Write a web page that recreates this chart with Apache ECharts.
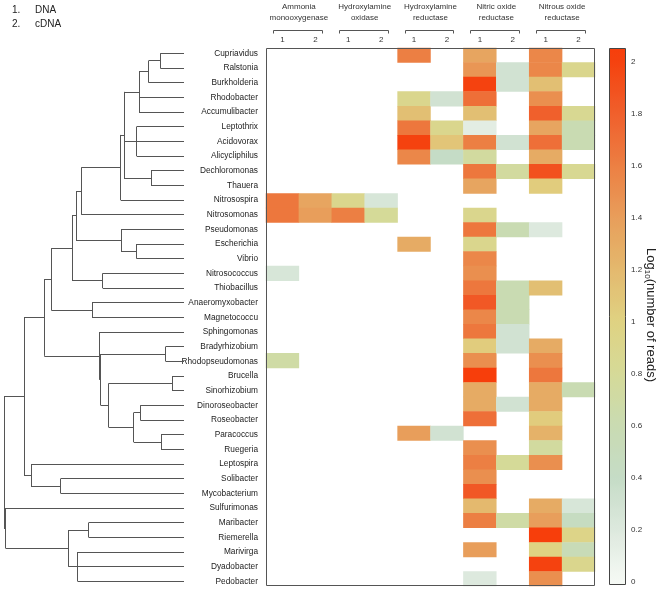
<!DOCTYPE html>
<html><head><meta charset="utf-8">
<script src="https://cdn.jsdelivr.net/npm/echarts@6/dist/echarts.min.js"></script>
<style>html,body{margin:0;padding:0;background:#fff}#c{width:660px;height:590px}</style>
</head><body><div id="c"></div><script>
// ---------- DATA ----------
const leafNames = ['Cupriavidus','Ralstonia','Burkholderia','Rhodobacter','Accumulibacter','Leptothrix','Acidovorax','Alicycliphilus','Dechloromonas','Thauera','Nitrosospira','Nitrosomonas','Pseudomonas','Escherichia','Vibrio','Nitrosococcus','Thiobacillus','Anaeromyxobacter','Magnetococcu','Sphingomonas','Bradyrhizobium','Rhodopseudomonas','Brucella','Sinorhizobium','Dinoroseobacter','Roseobacter','Paracoccus','Ruegeria','Leptospira','Solibacter','Mycobacterium','Sulfurimonas','Maribacter','Riemerella','Marivirga','Dyadobacter','Pedobacter'];
const groupLabels = ['Ammonia\nmonooxygenase','Hydroxylamine\noxidase','Hydroxylamine\nreductase','Nitric oxide\nreductase','Nitrous oxide\nreductase'];
const colKeys = ['amoDNA','amoCDNA','haoDNA','haoCDNA','hcpDNA','hcpCDNA','norDNA','norCDNA','nosDNA','nosCDNA'];
const colLabels = ['1','2','1','2','1','2','1','2','1','2'];
const colorbarTicks = [0,0.2,0.4,0.6,0.8,1,1.2,1.4,1.6,1.8,2];
const legendLines = [['1.','DNA'],['2.','cDNA']];

// log10(number of reads), one value per row (leafNames order)
const amoDNA  = [0,0,0,0,0,0,0,0,0,0, 1.65,1.65,0,0,0,0.25,0,0,0,0, 0,0.7,0,0,0,0,0,0,0,0, 0,0,0,0,0,0,0];
const amoCDNA = [0,0,0,0,0,0,0,0,0,0, 1.35,1.4,0,0,0,0,0,0,0,0, 0,0,0,0,0,0,0,0,0,0, 0,0,0,0,0,0,0];
const haoDNA  = [0,0,0,0,0,0,0,0,0,0, 0.9,1.6,0,0,0,0,0,0,0,0, 0,0,0,0,0,0,0,0,0,0, 0,0,0,0,0,0,0];
const haoCDNA = [0,0,0,0,0,0,0,0,0,0, 0.25,0.8,0,0,0,0,0,0,0,0, 0,0,0,0,0,0,0,0,0,0, 0,0,0,0,0,0,0];
const hcpDNA  = [1.6,0,0,0.9,1.15,1.65,2.0,1.55,0,0, 0,0,0,1.3,0,0,0,0,0,0, 0,0,0,0,0,0,1.4,0,0,0, 0,0,0,0,0,0,0];
const hcpCDNA = [0,0,0,0.3,0,0.9,1.1,0.4,0,0, 0,0,0,0,0,0,0,0,0,0, 0,0,0,0,0,0,0.3,0,0,0, 0,0,0,0,0,0,0];
const norDNA  = [1.35,1.45,2.0,1.7,1.15,0.15,1.6,0.75,1.65,1.35, 0,0.9,1.65,0.9,1.55,1.5,1.65,1.85,1.55,1.65, 1.05,1.5,2.05,1.3,1.3,1.7,0,1.5,1.6,1.5, 1.85,1.2,1.6,0,1.4,0,0.2];
const norCDNA = [0,0.3,0.3,0,0,0,0.3,0,0.75,0, 0,0,0.6,0,0,0,0.6,0.6,0.6,0.3, 0.3,0,0,0,0.3,0,0,0,0.8,0, 0,0,0.7,0,0,0,0];
const nosDNA  = [1.55,1.55,1.15,1.5,1.8,1.35,1.7,1.3,1.9,1.05, 0,0,0.2,0,0,0,1.15,0,0,0, 1.3,1.5,1.65,1.3,1.3,1.05,1.25,0.75,1.5,0, 0,1.3,1.4,2.05,1.0,2.0,1.5];
const nosCDNA = [0,0.9,0,0,0.85,0.6,0.6,0,0.85,0, 0,0,0,0,0,0,0,0,0,0, 0,0,0,0.6,0,0,0,0,0,0, 0,0.25,0.45,0.95,0.55,0.9,0];

// dendrogram merges: [node id, merge height, children (leaf index or node id)]
const clusterMerges = [
  ['A', 23.7, [0,1]],
  ['B', 35.3, ['A',2]],
  ['C', 45, ['B',3,4]],
  ['D', 47.3, [5,6,7]],
  ['E', 33, [8,9]],
  ['F', 60, ['C','D','E']],
  ['G', 63.3, ['F',10]],
  ['H', 102.7, ['G',11]],
  ['I', 47.3, [13,14]],
  ['J', 63, [12,'I']],
  ['K', 108, ['H','J']],
  ['L', 81.3, [15,16]],
  ['M', 112, ['K','L']],
  ['N', 92, [17,18]],
  ['O', 132.7, ['M','N']],
  ['R', 18.3, [20,21]],
  ['T', 12, [22,23]],
  ['V', 43.7, [24,25]],
  ['W', 23, [26,27]],
  ['U', 50.3, ['V','W']],
  ['S', 75.3, ['T','U']],
  ['RS', 83.3, ['R','S']],
  ['Q', 84.7, [19,'RS']],
  ['P', 139.7, ['O','Q']],
  ['X', 123.3, [29,30]],
  ['Y', 153, [28,'X']],
  ['Z', 160, ['P','Y']],
  ['AA', 95.3, [32,33]],
  ['BB', 106.3, [34,35,36]],
  ['CC', 115.7, ['AA','BB']],
  ['DD', 178.3, [31,'CC']],
  ['root', 180, ['Z','DD']]
];

// ---------- BUILD ----------
const columns = [amoDNA,amoCDNA,haoDNA,haoCDNA,hcpDNA,hcpCDNA,norDNA,norCDNA,nosDNA,nosCDNA];
const heatData = [];
columns.forEach((arr, c) => arr.forEach((v, r) => { if (v > 0) heatData.push([c, r, v]); }));

const nodes = {};
const segs = [];
const yOf = c => typeof c === 'number' ? c : nodes[c].y;
const hOf = c => typeof c === 'number' ? 0 : nodes[c].h;
clusterMerges.forEach(([id, h, kids]) => {
  const ys = kids.map(yOf);
  const y0 = Math.min(...ys), y1 = Math.max(...ys);
  nodes[id] = {h: h, y: (y0 + y1) / 2};
  segs.push({coords: [[h, y0], [h, y1]]});
  kids.forEach(k => segs.push({coords: [[hOf(k), yOf(k)], [h, yOf(k)]]}));
});

// colour ramp (style)
const rampStops = [[0,'#f6f9f5'],[0.2,'#dde9de'],[0.4,'#c5dcc6'],[0.6,'#c9dbb2'],[0.8,'#d5da98'],[1.0,'#dfd282'],[1.2,'#e4b96e'],[1.4,'#e89e5b'],[1.6,'#ec7f43'],[1.8,'#f0602c'],[2.0,'#f5420f'],[2.1,'#f83a08']];
const h2r = h => [1,3,5].map(i => parseInt(h.slice(i, i+2), 16));
function rampAt(v) {
  if (v <= rampStops[0][0]) return rampStops[0][1];
  for (let i = 1; i < rampStops.length; i++) {
    if (v <= rampStops[i][0]) {
      const t = (v - rampStops[i-1][0]) / (rampStops[i][0] - rampStops[i-1][0]);
      const a = h2r(rampStops[i-1][1]), b = h2r(rampStops[i][1]);
      return 'rgb(' + a.map((x, j) => Math.round(x + (b[j] - x) * t)).join(',') + ')';
    }
  }
  return rampStops[rampStops.length-1][1];
}
const cbMin = -0.012, cbMax = 2.054;
const rampColors = [];
for (let k = 0; k < 80; k++) rampColors.push(rampAt(cbMin + (cbMax - cbMin) * k / 79));

const FONT = '"Liberation Sans", Arial, sans-serif';
const chart = echarts.init(document.getElementById('c'), null, {renderer: 'canvas'});
const option = {
  animation: false,
  backgroundColor: '#fff',
  textStyle: {fontFamily: FONT},
  grid: [
    {left: 266, top: 48, width: 329, height: 538},
    {left: 4, top: 46, width: 180, height: 542.7},
    {left: 609, top: 61.7, width: 17, height: 520}
  ],
  xAxis: [
    {gridIndex: 0, type: 'category', data: colKeys, position: 'top',
     axisLine: {show: false}, axisTick: {show: false}, splitLine: {show: false},
     axisLabel: {interval: 0, formatter: (v, i) => colLabels[i], fontSize: 8, color: '#333', margin: 4, fontFamily: FONT}},
    {gridIndex: 0, type: 'category', data: groupLabels, position: 'top',
     axisLine: {show: false}, axisTick: {show: false}, splitLine: {show: false},
     axisLabel: {interval: 0, fontSize: 8, lineHeight: 11, color: '#333', margin: 25, fontFamily: FONT}},
    {gridIndex: 1, type: 'value', min: 0, max: 180, inverse: true, show: false},
    {gridIndex: 2, type: 'value', show: false}
  ],
  yAxis: [
    {gridIndex: 0, type: 'category', data: leafNames, inverse: true, show: false},
    {gridIndex: 1, type: 'value', min: -0.5, max: 36.5, inverse: true, show: false},
    {gridIndex: 1, type: 'category', data: leafNames, inverse: true, position: 'right',
     axisLine: {show: false}, axisTick: {show: false}, splitLine: {show: false},
     axisLabel: {interval: 0, align: 'right', margin: 74, fontSize: 8.3, color: '#222', fontFamily: FONT}},
    {gridIndex: 2, type: 'value', min: 0, max: 2, interval: 0.2, position: 'right',
     axisLine: {show: false}, axisTick: {show: false}, splitLine: {show: false},
     axisLabel: {fontSize: 8, color: '#333', margin: 5, fontFamily: FONT,
       formatter: v => colorbarTicks.some(t => Math.abs(t - v) < 1e-6) ? String(+v.toFixed(1)) : ''}}
  ],
  visualMap: [{
    type: 'continuous', seriesIndex: 0, dimension: 2, min: cbMin, max: cbMax,
    inRange: {color: rampColors}, calculable: false, hoverLink: false,
    left: 609, top: 48, itemWidth: 17, itemHeight: 537, padding: 0
  }],
  series: [
    {type: 'heatmap', xAxisIndex: 0, yAxisIndex: 0, data: heatData,
     itemStyle: {borderWidth: 0}, emphasis: {disabled: true}, progressive: 0},
    {type: 'lines', coordinateSystem: 'cartesian2d', xAxisIndex: 2, yAxisIndex: 1, data: segs,
     lineStyle: {color: '#555', width: 1, opacity: 1}, silent: true}
  ],
  graphic: [
    {id: 'hmBorder', type: 'rect', z: 100, silent: true, shape: {x: 266.5, y: 48.5, width: 328, height: 537},
     style: {fill: 'none', stroke: '#555', lineWidth: 1}},
    {id: 'cbBorder', type: 'rect', z: 100, silent: true, shape: {x: 609.5, y: 48.5, width: 16, height: 536},
     style: {fill: 'none', stroke: '#444', lineWidth: 1}},
    {id: 'cbTitle', type: 'text', z: 100, x: 651, y: 315, rotation: -Math.PI / 2, silent: true,
     style: {text: 'Log{s|10}(number of reads)', fontSize: 13, fontFamily: FONT, fill: '#222',
       align: 'center', verticalAlign: 'middle',
       rich: {s: {fontSize: 8, fontFamily: FONT, fill: '#222', padding: [7, 0, 0, 0]}}}}
  ]
};
legendLines.forEach((ln, i) => {
  option.graphic.push({id: 'lgA' + i, type: 'text', x: 12, y: 10 + 14 * i, silent: true,
    style: {text: ln[0], fontSize: 10, fontFamily: FONT, fill: '#222', verticalAlign: 'middle'}});
  option.graphic.push({id: 'lgB' + i, type: 'text', x: 35, y: 10 + 14 * i, silent: true,
    style: {text: ln[1], fontSize: 10, fontFamily: FONT, fill: '#222', verticalAlign: 'middle'}});
});
chart.setOption(option);

// brackets over each column pair, positioned from the axis
const c0 = chart.convertToPixel({xAxisIndex: 0}, 0);
const bw = chart.convertToPixel({xAxisIndex: 0}, 1) - c0;
const brackets = groupLabels.map((g, k) => {
  const x0 = Math.round(chart.convertToPixel({xAxisIndex: 0}, 2 * k) - bw / 2 + 7) + 0.5;
  const x1 = Math.round(chart.convertToPixel({xAxisIndex: 0}, 2 * k + 1) + bw / 2 - 10) + 0.5;
  return {id: 'br' + k, type: 'polyline', silent: true,
    shape: {points: [[x0, 33.5], [x0, 30.5], [x1, 30.5], [x1, 33.5]]},
    style: {stroke: '#555', lineWidth: 1, fill: 'none'}};
});
chart.setOption({graphic: brackets});
</script></body></html>
